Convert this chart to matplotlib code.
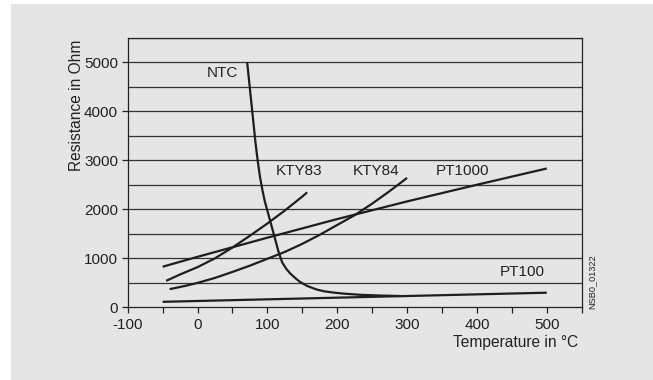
import matplotlib.pyplot as plt
from matplotlib.patches import Rectangle

plt.rcParams['font.family'] = ['Liberation Sans', 'DejaVu Sans']

# curves (temperature in °C, resistance in Ohm)
ntc_t = [71, 75, 79, 83, 86, 89.5, 93, 96.5, 100, 104, 108, 112, 116, 121, 127, 133, 140,
         146, 157, 170, 181, 195, 210, 233, 262, 291]
ntc_r = [5000, 4450, 3900, 3350, 3000, 2650, 2380, 2150, 1970, 1760, 1550, 1340, 1130, 920,
         785, 685, 595, 525, 435, 365, 327, 300, 278, 255, 240, 230]

kty83_t = [-45, -25, 0, 25, 50, 75, 100, 125, 150, 157]
kty83_r = [540, 670, 820, 1000, 1220, 1460, 1710, 1975, 2260, 2345]

kty84_t = [-40, -20, 0, 25, 50, 75, 100, 125, 150, 175, 200, 225, 250, 275, 300]
kty84_r = [370, 430, 498, 600, 722, 850, 990, 1130, 1295, 1480, 1680, 1880, 2115, 2370, 2640]

pt1000_t = [-50, 0, 100, 200, 300, 400, 500]
pt1000_r = [828, 1030, 1420, 1800, 2160, 2500, 2832]

pt100_t = [-50, 500]
pt100_r = [112, 298]

labels = ['NTC', 'KTY83', 'KTY84', 'PT1000', 'PT100']
label_x = [36, 146, 255, 379, 465]
label_y = [4780, 2785, 2785, 2785, 726]

fig = plt.figure(figsize=(6.53, 3.80), dpi=100, facecolor='white')
fig.patches.append(Rectangle((11 / 653, 0), 1, 1 - 4 / 380, transform=fig.transFigure,
                             facecolor='#e5e5e5', edgecolor='none', zorder=-10))
ax = fig.add_axes([0.1956, 0.1913, 0.6952, 0.7095])
ax.set_facecolor('none')

line_c = '#1e1e1e'
for t, r in [(ntc_t, ntc_r), (kty83_t, kty83_r), (kty84_t, kty84_r),
             (pt1000_t, pt1000_r), (pt100_t, pt100_r)]:
    ax.plot(t, r, color=line_c, lw=1.6, solid_capstyle='butt', solid_joinstyle='round',
            zorder=3)

for s, x, y in zip(labels, label_x, label_y):
    ax.text(x, y, s, ha='center', va='center', fontsize=11, color='#222222')

ax.set_xlim(-100, 550)
ax.set_ylim(0, 5500)
ax.set_xticks(range(-100, 551, 50))
ax.set_xticklabels([str(v) if v % 100 == 0 and v <= 500 else '' for v in range(-100, 551, 50)])
ax.set_yticks(range(0, 5001, 1000))
for y in range(500, 5501, 500):
    ax.axhline(y, color='#333333', lw=0.9, zorder=1)

for sp in ax.spines.values():
    sp.set_color('#222222')
    sp.set_linewidth(0.9)
ax.tick_params(axis='both', labelsize=11, colors='#222222', length=4, width=0.9)
ax.tick_params(axis='y', pad=3)
ax.tick_params(axis='x', pad=4)

fig.text(76.7 / 653, 1 - 40 / 380, 'Resistance in Ohm', rotation=90, ha='center', va='top',
         fontsize=11.2, color='#222222')
fig.text(578 / 653, 1 - 342 / 380, 'Temperature in °C', ha='right', va='center',
         fontsize=11.2, color='#222222')
fig.text(592 / 653, 1 - 282 / 380, 'NSB0_01322', rotation=90, ha='center', va='center',
         fontsize=6.6, color='#222222')

fig.savefig('out.png', dpi=100, facecolor='white')
